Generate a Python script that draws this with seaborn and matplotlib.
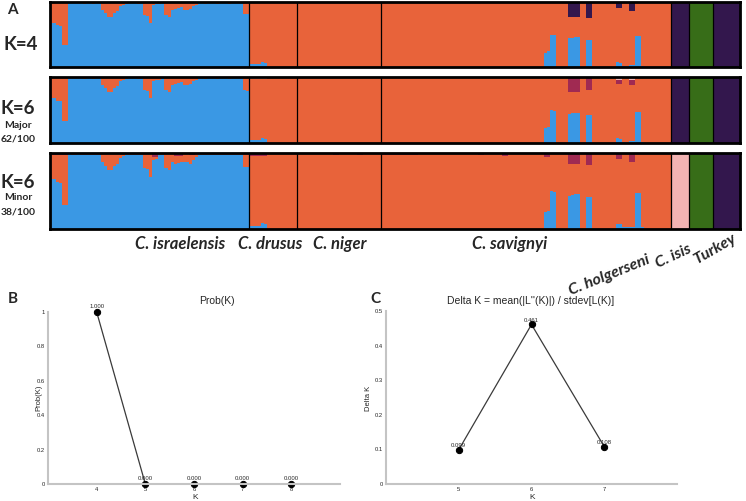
import numpy as np
import matplotlib
matplotlib.use("Agg")
import matplotlib.pyplot as plt
import seaborn as sns

# ---------------- data ----------------
pop_names = ["C. israelensis", "C. drusus", "C. niger", "C. savignyi",
             "C. holgerseni", "C. isis", "Turkey"]
pop_sizes = [66, 16, 28, 96, 6, 8, 9]

cluster_order = ["blue", "orange", "green", "dark", "crimson", "pink"]
cluster_colors = ["#3a98e4", "#e8633a", "#376d18", "#33174d", "#a02a52", "#f2b3b3"]

# C. israelensis: share of the orange cluster (top of bar)
isr_orange = [0.32, 0.32, 0.36, 0.37, 0.66, 0.66,
              0.01, 0.02, 0.02, 0.01, 0.02, 0.03, 0.02, 0.02, 0.03, 0.02, 0.02,
              0.12, 0.17, 0.23, 0.23, 0.17, 0.14, 0.06, 0.04,
              0.03, 0.02, 0.02, 0.02, 0.03, 0.02,
              0.20, 0.21, 0.32,
              0.04, 0.03, 0.03, 0.02,
              0.20, 0.23, 0.12,
              0.10, 0.09, 0.08,
              0.12, 0.12, 0.11,
              0.06, 0.05,
              0.02, 0.02, 0.03, 0.02, 0.02, 0.02, 0.03, 0.02, 0.02, 0.02, 0.03, 0.02, 0.02, 0.02, 0.02,
              0.18, 0.19]
isr_pink_major = [0] * 34 + [0.02, 0.02, 0.02] + [0] * 27 + [0.02, 0.02]
isr_crimson_minor = ([0.02] * 6 + [0] * 28 + [0.05, 0.05] + [0] * 5 +
                     [0.04, 0.04, 0.04] + [0] * 2 + [0.03, 0.03] + [0] * 18)

# C. drusus
dru_blue = [0.04, 0.04, 0.04, 0.04, 0.08, 0.06] + [0] * 10
dru_pink_major = [0.03] * 6 + [0] * 10
dru_crimson_minor = [0.04] * 6 + [0.01] * 10

# C. niger
nig_dark_k4 = [0] * 13 + [0.015] + [0] * 6 + [0.015, 0.015] + [0] * 6
nig_pink_major = [0] * 12 + [0.02, 0.02] + [0] * 6 + [0.02, 0.02] + [0] * 6
nig_crimson_minor = [0.01] * 12 + [0.03, 0.03] + [0.01] * 6 + [0.03, 0.03] + [0.01] * 6

# C. savignyi
sav_blue = ([0] * 54 + [0.22, 0.24, 0.50, 0.49, 0, 0, 0, 0, 0.44, 0.45, 0.46, 0.46, 0, 0, 0.42, 0.42] +
            [0] * 8 + [0.07, 0.06, 0.02, 0.02, 0.03, 0.03, 0.47, 0.47, 0.02] + [0] * 9)
sav_dark_k4 = ([0] * 31 + [0.02] + [0] * 30 + [0.23, 0.23, 0.23, 0.23, 0, 0, 0.25, 0.25] +
               [0] * 8 + [0.09, 0.09, 0, 0, 0.14, 0.14] + [0] * 12)
sav_crimson_major = ([0] * 62 + [0.22, 0.22, 0.22, 0.22, 0, 0, 0.20, 0.20] +
                     [0] * 8 + [0.06, 0.06, 0, 0, 0.08, 0.08] + [0] * 12)
sav_pink_major = ([0.015] * 12 + [0] * 20 + [0.02] + [0] * 21 + [0.02, 0.02] + [0] * 22 +
                  [0.04, 0.04, 0, 0, 0.04, 0.04, 0, 0, 0.015, 0.015, 0.015] + [0] * 7)
sav_crimson_minor = ([0.03] * 12 + [0.015] * 20 + [0.03, 0.03] + [0.015] * 6 + [0.04, 0.04] +
                     [0.015] * 12 + [0.05, 0.05] + [0.015] * 6 +
                     [0.15, 0.15, 0.14, 0.14, 0.015, 0.015, 0.16, 0.16] + [0.015] * 8 +
                     [0.08, 0.08, 0.015, 0.015, 0.12, 0.12] + [0.015] * 12)

panel_labels = ["K=4", "K=6", "K=6"]
panel_sublabels = [None, ["Major", "62/100"], ["Minor", "38/100"]]

dominant_k4 = {"C. israelensis": "blue", "C. drusus": "orange", "C. niger": "orange",
               "C. savignyi": "orange", "C. holgerseni": "dark", "C. isis": "green", "Turkey": "dark"}
dominant_major = dict(dominant_k4)
dominant_minor = dict(dominant_k4, **{"C. holgerseni": "pink"})

extra_k4 = {"C. israelensis": {"orange": isr_orange},
            "C. drusus": {"blue": dru_blue},
            "C. niger": {"dark": nig_dark_k4},
            "C. savignyi": {"blue": sav_blue, "dark": sav_dark_k4}}
extra_major = {"C. israelensis": {"orange": isr_orange, "pink": isr_pink_major},
               "C. drusus": {"blue": dru_blue, "pink": dru_pink_major},
               "C. niger": {"pink": nig_pink_major},
               "C. savignyi": {"blue": sav_blue, "crimson": sav_crimson_major, "pink": sav_pink_major}}
extra_minor = {"C. israelensis": {"orange": isr_orange, "crimson": isr_crimson_minor},
               "C. drusus": {"blue": dru_blue, "crimson": dru_crimson_minor},
               "C. niger": {"crimson": nig_crimson_minor},
               "C. savignyi": {"blue": sav_blue, "crimson": sav_crimson_minor}}

K_prob = [4, 5, 6, 7, 8]
prob_k = [1.000, 0.000, 0.000, 0.000, 0.000]
K_delta = [5, 6, 7]
delta_k = [0.099, 0.461, 0.108]

# ---------------- helpers ----------------
def build_q(dominant, extra):
    blocks = []
    for name, n in zip(pop_names, pop_sizes):
        q = np.zeros((n, len(cluster_order)))
        for cl, vals in extra.get(name, {}).items():
            q[:, cluster_order.index(cl)] += np.asarray(vals, dtype=float)
        d = cluster_order.index(dominant[name])
        q[:, d] = 1 - q.sum(axis=1)
        blocks.append(q)
    return np.vstack(blocks)

sns.set_theme(style="white")
plt.rcParams["font.family"] = ["Lato", "DejaVu Sans"]

W, H = 746, 501
fig = plt.figure(figsize=(W / 100, H / 100), dpi=100)

def px_axes(x0, y0, x1, y1):
    return fig.add_axes([x0 / W, 1 - y1 / H, (x1 - x0) / W, (y1 - y0) / H])

def ftext(x, y, s, **kw):
    return fig.text(x / W, 1 - y / H, s, **kw)

panel_boxes = [(50, 2, 740, 67), (50, 77, 740, 143), (50, 153, 740, 229)]
label_y = [(45, None, None), (108, 126, 139), (182, 198, 212)]
specs = [(dominant_k4, extra_k4), (dominant_major, extra_major), (dominant_minor, extra_minor)]
N = sum(pop_sizes)
idx = np.arange(N)
bounds = np.cumsum(pop_sizes)[:-1]

for (box, (dom, ext), lab, sub, ly) in zip(panel_boxes, specs, panel_labels, panel_sublabels, label_y):
    ax = px_axes(*box)
    q = build_q(dom, ext)
    cum = np.cumsum(q, axis=1)
    for k in reversed(range(len(cluster_order))):
        sns.barplot(x=idx, y=cum[:, k], color=cluster_colors[k], width=1, native_scale=True,
                    saturation=1, linewidth=0, errorbar=None, ax=ax, antialiased=False)
    for b in bounds:
        ax.axvline(b - 0.5, color="black", lw=0.9)
    ax.set_xlim(-0.5, N - 0.5)
    ax.set_ylim(0, 1)
    ax.set_xticks([])
    ax.set_yticks([])
    ax.set_xlabel("")
    ax.set_ylabel("")
    for s in ax.spines.values():
        s.set_visible(True)
        s.set_color("black")
        s.set_linewidth(2)
    if sub is None:
        ftext(21, ly[0], lab, ha="center", va="center", fontsize=13.5, fontweight="bold")
    else:
        ftext(18, ly[0], lab, ha="center", va="center", fontsize=13.5, fontweight="bold")
        ftext(18, ly[1], sub[0], ha="center", va="center", fontsize=7.5, fontweight="bold")
        ftext(18, ly[2], sub[1], ha="center", va="center", fontsize=7.5, fontweight="bold")

ftext(12, 10, "A", ha="center", va="center", fontsize=11, fontweight="bold")

# species labels
sp_pos = {"C. israelensis": (180, 244, 0, 12), "C. drusus": (270, 244, 0, 12),
          "C. niger": (340, 244, 0, 12), "C. savignyi": (510, 244, 0, 12),
          "C. holgerseni": (609, 275, 22, 11.5), "C. isis": (673, 256, 25, 11.5),
          "Turkey": (715, 249, 30, 11.5)}
for name in pop_names:
    x, y, r, fs = sp_pos[name]
    ftext(x, y, name, ha="center", va="center", fontsize=fs,
          fontweight="bold", fontstyle="italic", rotation=r, rotation_mode="anchor")

# ---------------- B and C ----------------
small_font = ["Liberation Sans", "DejaVu Sans"]
spine_col = "#c4c4c4"

def style_small(ax):
    sns.despine(ax=ax)
    for s in ("left", "bottom"):
        ax.spines[s].set_color(spine_col)
        ax.spines[s].set_linewidth(1.5)
    ax.tick_params(axis="both", labelsize=4.2, length=1.5, width=0.6, color=spine_col, pad=1)
    for t in ax.get_xticklabels() + ax.get_yticklabels():
        t.set_family(small_font)
    ax.xaxis.label.set_verticalalignment("center")
    ax.yaxis.label.set_verticalalignment("center")

axB = px_axes(48, 312, 340, 484)
sns.lineplot(x=K_prob, y=prob_k, ax=axB, color="#3a3a3a", lw=0.9, marker="o", markersize=4.5,
             markerfacecolor="black", markeredgecolor="black", clip_on=False)
axB.set_xlim(3, 9)
axB.set_ylim(0, 1)
axB.set_xticks(K_prob)
axB.set_yticks([0, 0.2, 0.4, 0.6, 0.8, 1])
axB.set_yticklabels(["0", "0.2", "0.4", "0.6", "0.8", "1"])
for k, v in zip(K_prob, prob_k):
    axB.annotate(f"{v:.3f}", (k, v), xytext=(0, 2.5), textcoords="offset points", ha="center",
                 va="bottom", fontsize=4.3, family=small_font, annotation_clip=False)
axB.set_xlabel("K", fontsize=6, family=small_font)
axB.xaxis.set_label_coords((195 - 48) / 292, -(497.5 - 484) / 172)
axB.set_ylabel("Prob(K)", fontsize=5.5, family=small_font)
axB.yaxis.set_label_coords((39 - 48) / 292, (484 - 398) / 172)
axB.text((217 - 48) / 292, (484 - 301) / 172, "Prob(K)", transform=axB.transAxes,
         ha="center", va="center", fontsize=7.5, family=small_font)
style_small(axB)
ftext(13, 299, "B", ha="center", va="center", fontsize=11, fontweight="bold")

axC = px_axes(386, 311, 677, 484)
sns.lineplot(x=K_delta, y=delta_k, ax=axC, color="#3a3a3a", lw=0.9, marker="o", markersize=4.5,
             markerfacecolor="black", markeredgecolor="black", clip_on=False)
axC.set_xlim(4, 8)
axC.set_ylim(0, 0.5)
axC.set_xticks(K_delta)
axC.set_yticks([0, 0.1, 0.2, 0.3, 0.4, 0.5])
axC.set_yticklabels(["0", "0.1", "0.2", "0.3", "0.4", "0.5"])
for k, v in zip(K_delta, delta_k):
    axC.annotate(f"{v:.3f}", (k, v), xytext=(0, 1), textcoords="offset points", ha="center",
                 va="bottom", fontsize=4.3, family=small_font, annotation_clip=False)
axC.set_xlabel("K", fontsize=6, family=small_font)
axC.xaxis.set_label_coords((532 - 386) / 291, -(497.5 - 484) / 173)
axC.set_ylabel("Delta K", fontsize=5.5, family=small_font)
axC.yaxis.set_label_coords((369 - 386) / 291, (484 - 398) / 173)
axC.text((531 - 386) / 291, (484 - 301) / 173, "Delta K = mean(|L''(K)|) / stdev[L(K)]",
         transform=axC.transAxes, ha="center", va="center", fontsize=7.5, family=small_font)
style_small(axC)
ftext(375, 299, "C", ha="center", va="center", fontsize=11, fontweight="bold")

fig.savefig("out.png", dpi=100)
